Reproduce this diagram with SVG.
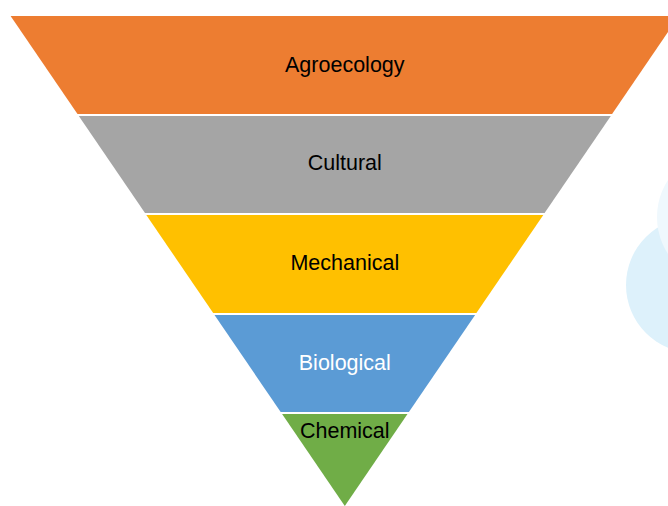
<svg xmlns="http://www.w3.org/2000/svg" width="668" height="506" viewBox="0 0 668 506">
<style>
.lbl{font-family:"Liberation Sans","Noto Sans",Arial,sans-serif;font-size:21.5px;text-anchor:middle;fill:#000}
.w{fill:#fff}
</style>
<rect width="668" height="506" fill="#fff"/>
<circle cx="694" cy="285" r="68" fill="#DDF1FB"/>
<circle cx="725" cy="217" r="68" fill="#EFF8FD"/>
<g id="agroecology">
<polygon points="10.6,16 679,16 612.1,114 77.5,114" fill="#ED7D31"/>
<text class="lbl" x="344.8" y="72">Agroecology</text>
</g>
<g id="cultural">
<polygon points="78.8,116 610.8,116 544.6,213 145,213" fill="#A5A5A5"/>
<text class="lbl" x="344.8" y="170">Cultural</text>
</g>
<g id="mechanical">
<polygon points="146.3,215 543.3,215 476.4,313 213.2,313" fill="#FFC000"/>
<text class="lbl" x="344.8" y="270">Mechanical</text>
</g>
<g id="biological">
<polygon points="214.5,315 475.1,315 408.9,412 280.7,412" fill="#5B9BD5"/>
<text class="lbl w" x="344.8" y="370">Biological</text>
</g>
<g id="chemical">
<polygon points="282.1,414 407.5,414 344.8,506" fill="#70AD47"/>
<text class="lbl" x="344.8" y="438">Chemical</text>
</g>
<g id="connectors"></g>
</svg>
